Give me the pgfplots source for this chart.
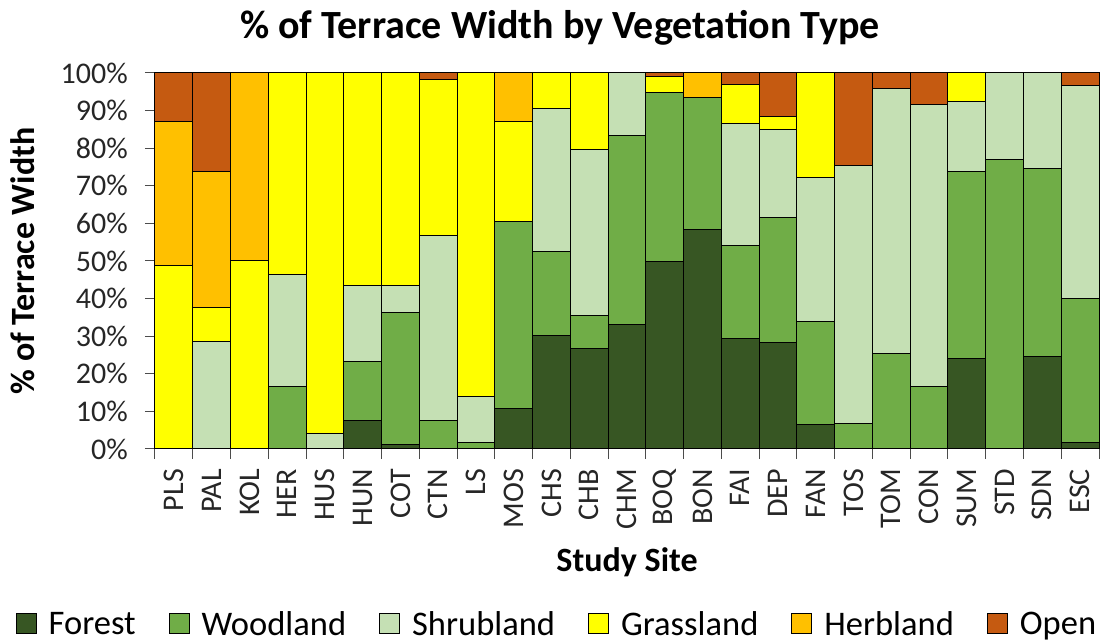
\documentclass[border=0pt]{standalone}
\usepackage{fontspec}
\setmainfont{Carlito}
\usepackage{pgfplots}
\pgfplotsset{compat=1.18}
\usepackage{pgfplotstable}

\definecolor{cForest}{HTML}{375623}
\definecolor{cWood}{HTML}{70AD47}
\definecolor{cShrub}{HTML}{C5E0B4}
\definecolor{cGrass}{HTML}{FFFF00}
\definecolor{cHerb}{HTML}{FFC000}
\definecolor{cOpen}{HTML}{C55A11}

\pgfplotstableread{
x F W S G H O
0 0 0 0 48.7 38.3 13.0
1 0 0 28.6 9.1 36.0 26.3
2 0 0 0 50.0 50.0 0
3 0 16.6 29.9 53.5 0 0
4 0 0 4.0 96.0 0 0
5 7.5 15.7 20.3 56.5 0 0
6 1.1 35.1 7.3 56.5 0 0
7 0 7.5 49.3 41.5 0 1.7
8 0 1.6 12.4 86.0 0 0
9 10.8 49.6 0 26.8 12.8 0
10 30.2 22.4 38.0 9.4 0 0
11 26.6 8.9 44.1 20.4 0 0
12 33.2 50.3 16.5 0 0 0
13 49.8 45.0 0 4.3 0 0.9
14 58.5 34.9 0 0 6.6 0
15 29.3 24.9 32.5 10.2 0 3.1
16 28.4 33.3 23.4 3.2 0 11.7
17 6.6 27.2 38.3 27.9 0 0
18 0 6.9 68.4 0 0 24.7
19 0 25.4 70.6 0 0 4.0
20 0 16.6 74.9 0 0 8.5
21 24.1 49.6 18.6 7.7 0 0
22 0 77.0 23.0 0 0 0
23 24.5 50.0 25.5 0 0 0
24 1.6 38.5 56.6 0 0 3.3
}\data

\begin{document}
\begin{tikzpicture}
\useasboundingbox (-155pt,-193pt) rectangle (949pt,449pt);
\begin{axis}[
  at={(0pt,0pt)}, anchor=south west,
  scale only axis, width=944pt, height=376pt,
  ybar stacked, bar width=1,
  xmin=-0.5, xmax=24.5, ymin=0, ymax=100,
  clip=false,
  axis lines*=left,
  axis line style={black!70, line width=1pt},
  tick align=outside,
  major tick length=10pt,
  tick style={black!70, line width=1pt},
  xtick={-0.5,0.5,...,24.5}, xticklabels={},
  extra x ticks={0,1,...,24},
  extra x tick labels={PLS,PAL,KOL,HER,HUS,HUN,COT,CTN,LS,MOS,CHS,CHB,CHM,BOQ,BON,FAI,DEP,FAN,TOS,TOM,CON,SUM,STD,SDN,ESC},
  extra x tick style={major tick length=0pt, xticklabel style={rotate=90, anchor=east, inner sep=0pt, xshift=-20pt}},
  ytick={0,10,...,100},
  yticklabel={\pgfmathprintnumber{\tick}\%},
  yticklabel style={anchor=east, inner sep=0pt, xshift=-17pt},
  tick label style={font=\fontsize{30}{36}\selectfont, text=black!85},
  /pgf/number format/assume math mode=true,
  title={\% of Terrace Width by Vegetation Type},
  title style={at={(axis description cs:0.429,1.1038)}, anchor=center, font=\bfseries\fontsize{40}{48}\selectfont},
  ylabel={\% of Terrace Width},
  ylabel style={at={(axis description cs:-0.1398,0.5)}, anchor=center, font=\bfseries\fontsize{34}{40}\selectfont},
  xlabel={Study Site},
  xlabel style={at={(axis description cs:0.5,-0.3005)}, anchor=center, font=\bfseries\fontsize{34}{40}\selectfont},
  every axis plot/.append style={draw=black, line width=1pt},
  legend columns=6,
  legend cell align=left,
  legend style={draw=none, fill=none, at={(axis description cs:0.4258,-0.4654)}, anchor=center,
    font=\fontsize{34.5}{40}\selectfont,
    /tikz/every odd column/.append style={column sep=10pt},
    /tikz/every even column/.append style={column sep=31pt}},
  legend image code/.code={\draw[#1, line width=1pt] (0pt,-10pt) rectangle (20pt,10pt);},
]
\addplot[fill=cForest] table[x=x,y=F]{\data};
\addplot[fill=cWood] table[x=x,y=W]{\data};
\addplot[fill=cShrub] table[x=x,y=S]{\data};
\addplot[fill=cGrass] table[x=x,y=G]{\data};
\addplot[fill=cHerb] table[x=x,y=H]{\data};
\addplot[fill=cOpen] table[x=x,y=O]{\data};
\legend{Forest,Woodland,Shrubland,Grassland,Herbland,Open}
\end{axis}
\end{tikzpicture}
\end{document}
